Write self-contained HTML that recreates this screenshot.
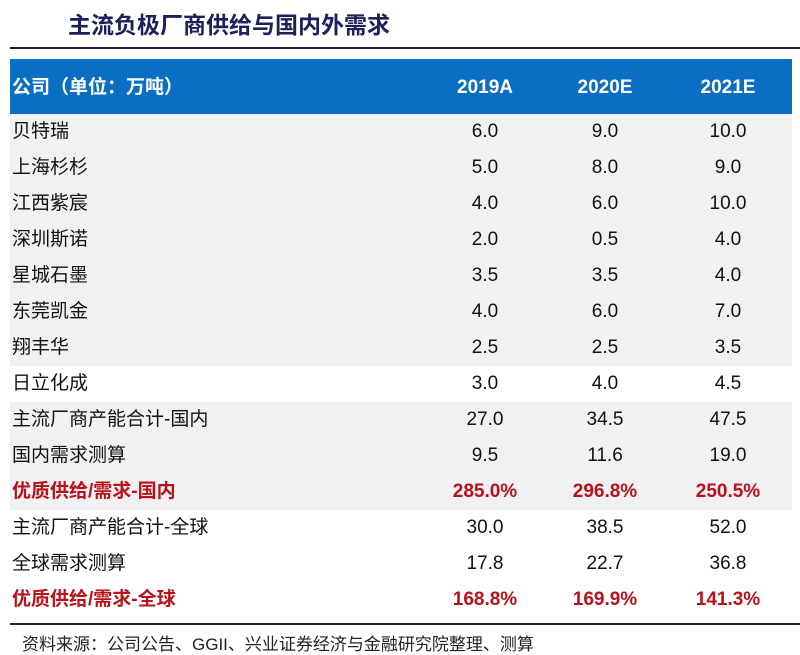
<!DOCTYPE html>
<html><head><meta charset="utf-8"><style>
body{margin:0;width:800px;height:654px;background:#fff;position:relative;overflow:hidden;font-family:"Liberation Sans","Noto Sans CJK SC",sans-serif;}
.title{position:absolute;left:68px;top:6px;font-size:23px;font-weight:bold;color:#1f1f5e;}
.rule{position:absolute;left:10px;right:0;top:47px;height:2px;background:#1a1a3a;}
.hdr{position:absolute;left:10px;width:782px;top:59px;height:55px;background:#0a6fc2;color:#fff;font-weight:bold;font-size:19px;}
.row{position:absolute;left:10px;width:782px;height:36px;font-size:19px;color:#111;}
.c{position:absolute;top:0;line-height:36px;}
.lab{left:2px;}
.v{width:100px;text-align:center;}
.gray{background:#f1f1f4;}
.red{color:#b8121b;font-weight:bold;}
.bot{position:absolute;left:10px;right:0;top:623px;height:2px;background:#222;}
.src{position:absolute;left:22px;top:630px;font-size:17px;color:#222;}
</style></head><body>
<div class="title">主流负极厂商供给与国内外需求</div>
<div class="rule"></div>
<div class="hdr">
 <div class="c lab" style="line-height:57px">公司（单位：万吨）</div>
 <div class="c v" style="left:425px;line-height:57px">2019A</div>
 <div class="c v" style="left:545px;line-height:57px">2020E</div>
 <div class="c v" style="left:668px;line-height:57px">2021E</div>
</div>
<div id="tbl"></div>
<div class="bot"></div>
<div class="src">资料来源：公司公告、GGII、兴业证券经济与金融研究院整理、测算</div>
<script>
const labels=["贝特瑞","上海杉杉","江西紫宸","深圳斯诺","星城石墨","东莞凯金","翔丰华","日立化成","主流厂商产能合计-国内","国内需求测算","优质供给/需求-国内","主流厂商产能合计-全球","全球需求测算","优质供给/需求-全球"];
const v2019=["6.0","5.0","4.0","2.0","3.5","4.0","2.5","3.0","27.0","9.5","285.0%","30.0","17.8","168.8%"];
const v2020=["9.0","8.0","6.0","0.5","3.5","6.0","2.5","4.0","34.5","11.6","296.8%","38.5","22.7","169.9%"];
const v2021=["10.0","9.0","10.0","4.0","4.0","7.0","3.5","4.5","47.5","19.0","250.5%","52.0","36.8","141.3%"];
const grayRows=[1,1,1,1,1,1,1,0,1,1,1,0,0,0];
const redRows=[0,0,0,0,0,0,0,0,0,0,1,0,0,1];
const tbl=document.getElementById('tbl');
labels.forEach((l,i)=>{
 const r=document.createElement('div');
 r.className='row'+(grayRows[i]?' gray':'')+(redRows[i]?' red':'');
 r.style.top=(114+i*36)+'px';
 
 
 const cells=[[l,'c lab',null],[v2019[i],'c v',435],[v2020[i],'c v',555],[v2021[i],'c v',678]];
 cells.forEach(([t,cls,x])=>{
  const d=document.createElement('div');
  d.className=cls;d.textContent=t;
  if(x!==null)d.style.left=(x-10)+'px';
  
  
  r.appendChild(d);
 });
 tbl.appendChild(r);
});
</script>
</body></html>
